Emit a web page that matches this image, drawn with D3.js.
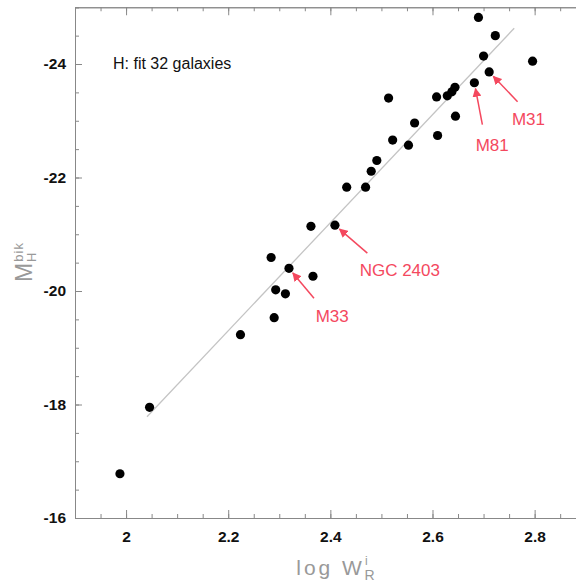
<!DOCTYPE html>
<html><head><meta charset="utf-8">
<script src="https://cdn.jsdelivr.net/npm/d3@7"></script>
<style>
html,body{margin:0;padding:0;background:#fff;}
svg{display:block;font-family:"Liberation Sans",Arial,Helvetica,sans-serif;}
</style></head>
<body>
<svg id="chart" width="576" height="586"></svg>
<script>
// ---- data ----
const logW = [2.690, 2.723, 2.700, 2.796, 2.711, 2.682, 2.644, 2.638, 2.629, 2.608,
              2.514, 2.645, 2.565, 2.610, 2.522, 2.553, 2.491, 2.480, 2.432, 2.469,
              2.362, 2.409, 2.284, 2.319, 2.366, 2.293, 2.312, 2.290, 2.224, 2.046, 1.988];
const MH   = [-24.82, -24.50, -24.14, -24.05, -23.86, -23.67, -23.59, -23.51, -23.44, -23.42,
              -23.40, -23.08, -22.96, -22.74, -22.66, -22.57, -22.30, -22.11, -21.83, -21.83,
              -21.14, -21.16, -20.59, -20.40, -20.26, -20.02, -19.95, -19.53, -19.23, -17.95, -16.78];
const fitX = [2.041, 2.760];
const fitY = [-17.785, -24.63];
const xTicks = [2, 2.2, 2.4, 2.6, 2.8];
const yTicks = [-16, -18, -20, -22, -24];
const annNames = ["M31", "M81", "NGC 2403", "M33"];
const annIndex = [4, 5, 21, 23];
const fitLabel = "H: fit 32 galaxies";

// ---- layout ----
const annTail = [[28.4, 29.7], [8, 42], [32.4, 28], [25, 30]];
const annText = [[-5.7, 23.3], [-6.7, 26], [-7.7, 22.7], [1.7, 23.7]];
const red = "#f4485e";

const svg = d3.select("#chart");
const x = d3.scaleLinear().domain([1.9, 2.9]).range([75, 585.7]);
const y = d3.scaleLinear().domain([-16, -25]).range([518, 7.25]);

const axisColor = "#888";
function styleAxis(g) {
  g.select(".domain").attr("stroke", axisColor).attr("stroke-width", 1);
  g.selectAll(".tick line").attr("stroke", axisColor).attr("stroke-width", 1);
}
const minorX = d3.range(1.9, 2.9001, 0.05);
const minorY = d3.range(-25, -15.999, 0.5);

// bottom axis
const gb = svg.append("g").attr("transform", `translate(0,${y(-16)})`);
gb.append("g").call(d3.axisBottom(x).tickValues(minorX).tickSize(-4).tickFormat("")).call(styleAxis);
gb.append("g").call(d3.axisBottom(x).tickValues(xTicks).tickSizeInner(-8).tickSizeOuter(0).tickPadding(13)
   .tickFormat(d => String(d))).call(styleAxis)
  .selectAll("text").attr("font-size", 15.5).attr("font-weight", "bold").attr("fill", "#111")
  .attr("font-family", "Liberation Sans, Arial, sans-serif");
// top axis
const gt = svg.append("g").attr("transform", `translate(0,${y(-25)})`);
gt.append("g").call(d3.axisTop(x).tickValues(minorX).tickSize(-4).tickFormat("")).call(styleAxis);
gt.append("g").call(d3.axisTop(x).tickValues(xTicks).tickSizeInner(-8).tickSizeOuter(0).tickFormat("")).call(styleAxis);
// left axis
const gl = svg.append("g").attr("transform", `translate(${x(1.9)},0)`);
gl.append("g").call(d3.axisLeft(y).tickValues(minorY).tickSize(-4).tickFormat("")).call(styleAxis);
gl.append("g").call(d3.axisLeft(y).tickValues(yTicks).tickSizeInner(-7).tickSizeOuter(0).tickPadding(9)
   .tickFormat(d => String(d))).call(styleAxis)
  .selectAll("text").attr("font-size", 15.5).attr("font-weight", "bold").attr("fill", "#111")
  .attr("font-family", "Liberation Sans, Arial, sans-serif");

// fit line
svg.append("line")
  .attr("x1", x(fitX[0])).attr("y1", y(fitY[0]))
  .attr("x2", x(fitX[1])).attr("y2", y(fitY[1]))
  .attr("stroke", "#c4c4c4").attr("stroke-width", 1.3);

// points
svg.append("g").selectAll("circle").data(logW).join("circle")
  .attr("cx", d => x(d)).attr("cy", (d, i) => y(MH[i])).attr("r", 4.6).attr("fill", "#000");

// annotations
const defs = svg.append("defs");
defs.append("marker").attr("id", "ah").attr("viewBox", "0 0 10 10").attr("refX", 9).attr("refY", 5)
  .attr("markerWidth", 9).attr("markerHeight", 9).attr("markerUnits", "userSpaceOnUse").attr("orient", "auto")
  .append("path").attr("d", "M0,0L10,5L0,10z").attr("fill", red);
annNames.forEach((name, k) => {
  const px = x(logW[annIndex[k]]), py = y(MH[annIndex[k]]);
  const tx = px + annTail[k][0], ty = py + annTail[k][1];
  const L = Math.hypot(annTail[k][0], annTail[k][1]);
  const gap = 6;
  const hx = px + annTail[k][0] * gap / L, hy = py + annTail[k][1] * gap / L;
  svg.append("line").attr("x1", tx).attr("y1", ty).attr("x2", hx).attr("y2", hy)
    .attr("stroke", red).attr("stroke-width", 1.5).attr("marker-end", "url(#ah)");
  svg.append("text").attr("x", tx + annText[k][0]).attr("y", ty + annText[k][1])
    .attr("fill", red).attr("font-size", 17).text(name);
});

// fit label
svg.append("text").attr("x", 113).attr("y", 69).attr("font-size", 16).attr("fill", "#111").text(fitLabel);

// x axis label
const xl = svg.append("text").attr("x", 337).attr("y", 575).attr("text-anchor", "middle")
  .attr("fill", "#999").attr("font-size", 21).attr("letter-spacing", 3);
xl.append("tspan").text("log  W");
xl.append("tspan").attr("font-size", 12).attr("dy", -10).text("i");
xl.append("tspan").attr("font-size", 14).attr("dx", -6).attr("dy", 15).text("R");

// y axis label
const yl = svg.append("text").attr("transform", "translate(32,262) rotate(-90)").attr("text-anchor", "middle")
  .attr("fill", "#999").attr("font-size", 23).attr("letter-spacing", 1);
yl.append("tspan").text("M");
yl.append("tspan").attr("font-size", 13).attr("dy", -9).text("bik");
yl.append("tspan").attr("font-size", 13).attr("dx", -20).attr("dy", 13).text("H");
</script>
</body></html>
